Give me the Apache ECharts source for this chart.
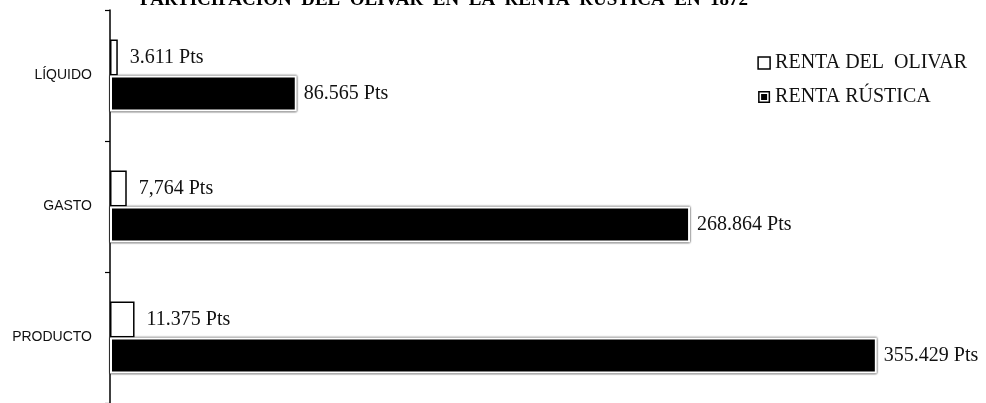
<!DOCTYPE html>
<html>
<head>
<meta charset="utf-8">
<script src="https://cdn.jsdelivr.net/npm/echarts@6/dist/echarts.min.js"></script>
<style>
	html, body { margin: 0; padding: 0; background: #fff; }
	#chart { width: 986px; height: 403px; }
</style>
</head>
<body>
<div id="chart"></div>
<script>
// datos
const categories = ['LÍQUIDO', 'GASTO', 'PRODUCTO'];
const rentaOlivar = [3.611, 7.764, 11.375];
const rentaRustica = [86.565, 268.864, 355.429];
const olivarLabels = ['3.611 Pts', '7,764 Pts', '11.375 Pts'];
const rusticaLabels = ['86.565 Pts', '268.864 Pts', '355.429 Pts'];

const chart = echarts.init(document.getElementById('chart'));

const serif = '"Liberation Serif", "DejaVu Serif", serif';

const option = {
	animation: false,
	title: {
		text: 'PARTICIPACIÓN  DEL  OLIVAR  EN  LA  RENTA  RÚSTICA  EN  1872',
		left: 135,
		top: -14,
		textStyle: { fontFamily: serif, fontSize: 19, fontWeight: 'bold', color: '#000' }
	},
	legend: {
		orient: 'vertical',
		right: 14,
		top: 48,
		itemGap: 14,
		itemWidth: 12,
		itemHeight: 12,
		textStyle: { fontFamily: serif, fontSize: 20, color: '#111' },
		data: [
			{ name: 'RENTA DEL  OLIVAR', icon: 'rect', itemStyle: { color: '#fff', borderColor: '#000', borderWidth: 1.5 } },
			{ name: 'RENTA RÚSTICA', icon: 'path://M0,0H12V12H0Z M1.5,1.5V10.5H10.5V1.5Z M3,3H9V9H3Z', itemStyle: { color: '#000', borderWidth: 0 } }
		]
	},
	grid: {
		left: 110,
		top: 10,
		width: 863,
		height: 399,
		containLabel: false
	},
	xAxis: {
		type: 'value',
		min: 0,
		max: 400,
		show: false
	},
	yAxis: {
		type: 'category',
		inverse: true,
		data: categories,
		axisLine: { show: true, lineStyle: { color: '#000', width: 1.5 } },
		axisTick: { show: true, length: 5, lineStyle: { color: '#000', width: 1.2 } },
		axisLabel: { fontFamily: '"Liberation Sans", Arial, sans-serif', fontSize: 14, color: '#111', margin: 18 },
		splitLine: { show: false }
	},
	series: [
		{
			name: 'RENTA DEL  OLIVAR',
			type: 'bar',
			data: rentaOlivar,
			barWidth: 36,
			barGap: '0%',
			itemStyle: { color: '#fff', borderColor: '#000', borderWidth: 1.5 },
			label: {
				show: true,
				position: 'right',
				distance: 12,
				fontFamily: serif,
				fontSize: 20,
				color: '#111',
				formatter: function (p) { return olivarLabels[p.dataIndex]; }
			}
		},
		{
			name: 'RENTA RÚSTICA',
			type: 'bar',
			data: rentaRustica,
			barWidth: 36,
			barGap: '0%',
			itemStyle: {
				color: '#000',
				borderColor: '#fff',
				borderWidth: 2,
				shadowColor: '#000',
				shadowBlur: 2
			},
			label: {
				show: true,
				position: 'right',
				distance: 7,
				fontFamily: serif,
				fontSize: 20,
				color: '#111',
				formatter: function (p) { return rusticaLabels[p.dataIndex]; }
			}
		}
	]
};

chart.setOption(option);
window.onresize = chart.resize;
</script>
</body>
</html>
